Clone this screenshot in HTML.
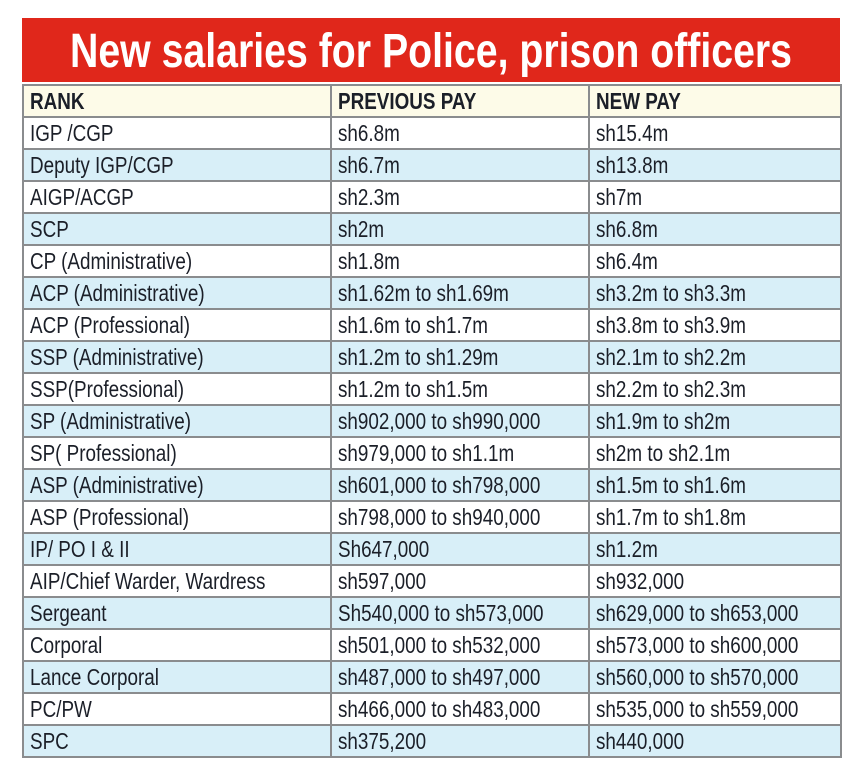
<!DOCTYPE html>
<html><head><meta charset="utf-8">
<style>
body{margin:0;width:866px;height:779px;background:#fff;overflow:hidden;font-family:"Liberation Sans",sans-serif;}
#banner{position:absolute;left:22px;top:18px;width:818px;height:64px;background:#e0271b;}
#tbl{position:absolute;left:22px;top:84px;width:816px;border:2px solid #8a8c8e;}
.row{position:relative;height:30px;border-bottom:2px solid #8a8c8e;}
.row:last-child{border-bottom:none;}
.cell{position:absolute;top:0;height:30px;line-height:31px;color:#1b1f28;font-size:23px;white-space:nowrap;}
.cell span{display:inline-block;transform:scaleX(0.82);transform-origin:0 50%;}
.c0{left:0;width:304px;padding-left:6px;}
.c1{left:306px;width:256px;padding-left:6px;border-left:2px solid #8a8c8e;}
.c2{left:564px;width:250px;padding-left:6px;border-left:2px solid #8a8c8e;}
.hdr{background:#fdfbe8;}
.hdr .cell{font-weight:bold;}
.blue{background:#d8eff8;}
</style></head>
<body>
<div id="banner">
<svg width="818" height="64"><text x="409" y="49" text-anchor="middle" textLength="722" lengthAdjust="spacingAndGlyphs" font-family="Liberation Sans, sans-serif" font-weight="bold" font-size="48" fill="#fff">New salaries for Police, prison officers</text></svg>
</div>
<div id="tbl"></div>
<script>
const headers=["RANK","PREVIOUS PAY","NEW PAY"];
const ranks=["IGP /CGP","Deputy IGP/CGP","AIGP/ACGP","SCP","CP (Administrative)","ACP (Administrative)","ACP (Professional)","SSP (Administrative)","SSP(Professional)","SP (Administrative)","SP( Professional)","ASP (Administrative)","ASP (Professional)","IP/ PO I & II","AIP/Chief Warder, Wardress","Sergeant","Corporal","Lance Corporal","PC/PW","SPC"];
const previousPay=["sh6.8m","sh6.7m","sh2.3m","sh2m","sh1.8m","sh1.62m to sh1.69m","sh1.6m to sh1.7m","sh1.2m to sh1.29m","sh1.2m to sh1.5m","sh902,000 to sh990,000","sh979,000 to sh1.1m","sh601,000 to sh798,000","sh798,000 to sh940,000","Sh647,000","sh597,000","Sh540,000 to sh573,000","sh501,000 to sh532,000","sh487,000 to sh497,000","sh466,000 to sh483,000","sh375,200"];
const newPay=["sh15.4m","sh13.8m","sh7m","sh6.8m","sh6.4m","sh3.2m to sh3.3m","sh3.8m to sh3.9m","sh2.1m to sh2.2m","sh2.2m to sh2.3m","sh1.9m to sh2m","sh2m to sh2.1m","sh1.5m to sh1.6m","sh1.7m to sh1.8m","sh1.2m","sh932,000","sh629,000 to sh653,000","sh573,000 to sh600,000","sh560,000 to sh570,000","sh535,000 to sh559,000","sh440,000"];
const tbl=document.getElementById('tbl');
const colNames=['rank','previous-pay','new-pay'];
function addRow(vals,cls,name){
  const r=document.createElement('div');
  r.className='row '+cls;
  
  
  vals.forEach((v,i)=>{
    const c=document.createElement('div');
    c.className='cell c'+i;
    
    
    const s=document.createElement('span');
    s.textContent=v;
    c.appendChild(s);
    r.appendChild(c);
  });
  tbl.appendChild(r);
}
addRow(headers,'hdr','header-row');
ranks.forEach((k,i)=>addRow([k,previousPay[i],newPay[i]],i%2?'blue':'','row-'+(i+1)));
</script>
</body></html>
